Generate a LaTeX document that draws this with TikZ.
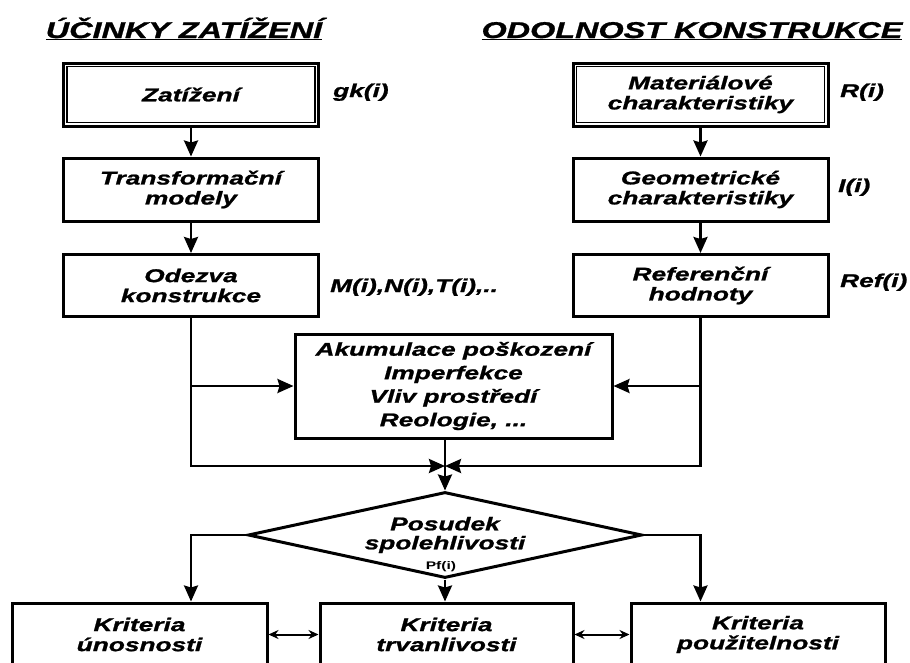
\documentclass[tikz,border=0pt]{standalone}
\usepackage{fontspec}
\setmainfont{Liberation Sans}[FakeStretch=1.42, BoldItalicFeatures={FakeBold=1.2}]
\usetikzlibrary{shapes.geometric,arrows.meta}

\begin{document}
\begin{tikzpicture}[x=1pt, y=-1pt,
    txt/.style={font=\fontsize{18.5}{20}\selectfont\bfseries\itshape},
    box/.style={txt, draw, line width=3pt, minimum width=255, minimum height=63, inner sep=0, align=center},
    lbl/.style={txt, anchor=base west, inner sep=0},
    head/.style={anchor=base, inner sep=0, font=\fontsize{22.8}{26}\selectfont\bfseries\itshape},
    >={Stealth[length=16pt, width=14pt, inset=2pt]},
    wire/.style={line width=2.5pt, ->},
    both/.style={line width=2pt, {Stealth[length=10pt, width=9pt]}-{Stealth[length=10pt, width=9pt]}}]
  \useasboundingbox (0,0) rectangle (910,662);

  \node[head] (effects) at (184,38) {\underline{ÚČINKY ZATÍŽENÍ}};
  \node[head] (resist) at (692,38) {\underline{ODOLNOST KONSTRUKCE}};

  \node[box] (zat) at (191,94.5) {Zatížení};
  \draw[line width=1.2pt] ([shift={(5,5)}]zat.north west) rectangle ([shift={(-5,-5)}]zat.south east);
  \node[box] (trans) at (191,189.5) {Transformační\\modely};
  \node[box, minimum height=62] (odez) at (191,285.5) {Odezva\\konstrukce};

  \node[box] (mat) at (700.5,94.5) {Materiálové\\charakteristiky};
  \draw[line width=1.2pt] ([shift={(5,5)}]mat.north west) rectangle ([shift={(-5,-5)}]mat.south east);
  \node[box] (geom) at (700.5,189.5) {Geometrické\\charakteristiky};
  \node[box, minimum height=62] (ref) at (700.5,285.5) {Referenční\\hodnoty};

  \node[lbl] (gk) at (333,97) {gk(i)};
  \node[lbl] (mnt) at (330,292) {M(i),N(i),T(i),..};
  \node[lbl] (ri) at (840,97) {R(i)};
  \node[lbl] (li) at (838,192) {I(i)};
  \node[lbl] (refi) at (840,287) {Ref(i)};

  \node[box, minimum width=317, minimum height=104, font=\fontsize{18.5}{23.5}\selectfont\bfseries\itshape] (akum) at (453.5,386)
    {Akumulace poškození\\Imperfekce\\Vliv prostředí\\Reologie, ...};
  \coordinate (join) at (445,466);

  \node[draw, diamond, shape aspect=4.58, line width=3pt, minimum width=394, minimum height=86, inner sep=0, align=center,
    font=\fontsize{18.5}{19}\selectfont\bfseries\itshape] (posud) at (445,535) {Posudek\\spolehlivosti};
  \node[font=\fontsize{11}{13}\selectfont\bfseries, anchor=base, inner sep=0] (pf) at (441,569) {Pf(i)};

  \node[box] (un) at (139.5,634.5) {Kriteria\\únosnosti};
  \node[box, minimum width=253] (trv) at (446.5,634.5) {Kriteria\\trvanlivosti};
  \node[box, minimum width=254] (pouz) at (758,634.5) {Kriteria\\použitelnosti};

  \draw[wire] (zat) -- (trans);
  \draw[wire] (trans) -- (odez);
  \draw[wire] (mat) -- (geom);
  \draw[wire] (geom) -- (ref);
  \draw[wire] (odez.south) |- (join);
  \draw[wire] (ref.south) |- (join);
  \draw[wire] (odez.south |- akum.west) -- (akum.west);
  \draw[wire] (ref.south |- akum.east) -- (akum.east);
  \draw[wire] (akum.south -| join) -- (posud.north);
  \draw[wire] (posud.west) -| (un.north -| odez.south);
  \draw[wire] (posud.east) -| (pouz.north -| ref.south);
  \draw[wire] (posud.south) -- (posud.south |- trv.north);
  \draw[both] (un) -- (trv);
  \draw[both] (trv) -- (pouz);
\end{tikzpicture}
\end{document}
